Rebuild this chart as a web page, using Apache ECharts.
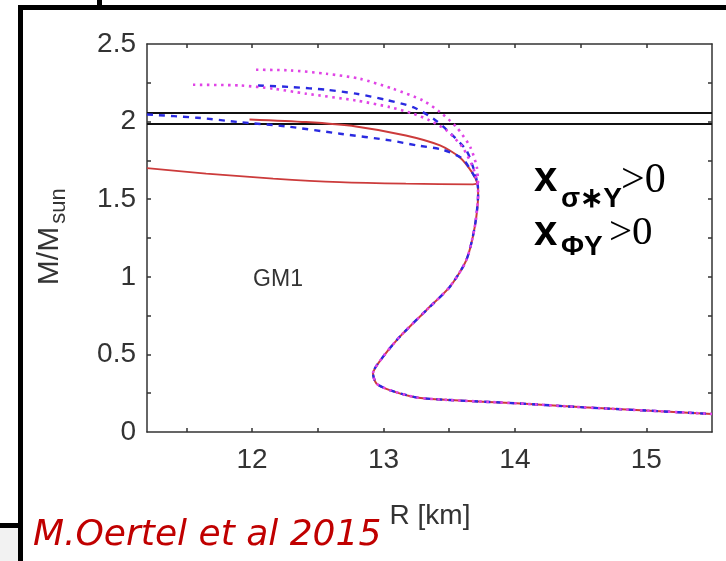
<!DOCTYPE html>
<html>
<head>
<meta charset="utf-8">
<script src="https://cdn.jsdelivr.net/npm/echarts@6/dist/echarts.min.js"></script>
<style>
html,body{margin:0;padding:0;background:#fff;}
#chart{width:726px;height:561px;}
</style>
</head>
<body>
<div id="chart"></div>
<script>
// ---- data (R in km, M in solar masses) ----
var xTicks = [11.5, 12, 12.5, 13, 13.5, 14, 14.5, 15];
var xTickLabels = [12, 13, 14, 15];
var yTicks = [0.25, 0.5, 0.75, 1, 1.25, 1.5, 1.75, 2, 2.25];
var yTickLabels = [0, 0.5, 1, 1.5, 2, 2.5];

// shared low-mass part (all models coincide)
var mainR = [13.715, 13.72, 13.694, 13.63, 13.504, 13.326, 13.123, 12.996, 12.92, 12.946, 13.047, 13.25, 13.504, 14.01, 14.52, 15.03, 15.5];
var mainM = [1.60, 1.535, 1.32, 1.107, 0.935, 0.785, 0.613, 0.484, 0.377, 0.313, 0.27, 0.223, 0.206, 0.185, 0.159, 0.137, 0.116];

// red solid branches
var redUpperR = [11.98, 12.41, 12.79, 13.17, 13.43, 13.58, 13.68];
var redUpperM = [2.014, 1.997, 1.969, 1.911, 1.847, 1.77, 1.665];
var redLowerR = [11.2, 11.65, 12.16, 12.667, 13.17, 13.68, 13.715];
var redLowerM = [1.70, 1.665, 1.633, 1.61, 1.60, 1.596, 1.60];

// blue dashed branches
var blueLowerR = [11.2, 11.58, 11.9, 12.26, 12.67, 13.05, 13.25, 13.45, 13.6, 13.68];
var blueLowerM = [2.046, 2.025, 1.997, 1.969, 1.922, 1.879, 1.847, 1.819, 1.761, 1.665];
var blueUpperR = [12.045, 12.31, 12.565, 12.79, 13.02, 13.225, 13.38, 13.5, 13.63, 13.69, 13.715];
var blueUpperM = [2.233, 2.222, 2.205, 2.18, 2.14, 2.093, 2.019, 1.932, 1.815, 1.686, 1.60];

// magenta dotted branches
var magUpperR = [12.03, 12.29, 12.565, 12.82, 13.07, 13.30, 13.43, 13.555, 13.66, 13.71, 13.72];
var magUpperM = [2.334, 2.33, 2.308, 2.276, 2.212, 2.136, 2.061, 1.965, 1.836, 1.707, 1.60];
var magLowerR = [11.55, 11.906, 12.16, 12.41, 12.79, 13.05, 13.225, 13.35, 13.48, 13.6, 13.68];
var magLowerM = [2.237, 2.233, 2.212, 2.18, 2.136, 2.093, 2.051, 2.008, 1.943, 1.836, 1.707];

// observational constraint lines
var limitM = [2.055, 1.985];
var xRange = [11.2, 15.5];

function zip(r, m) { return r.map(function (v, i) { return [v, m[i]]; }); }
function withMain(r, m) { return zip(r, m).concat(zip(mainR, mainM)); }

var RED = '#cc3b3b', BLUE = '#2a2ae0', MAG = '#e044e6';
var AX = '#333333';
var tickFont = 'Liberation Sans, Arial, sans-serif';

function lineSeries(data, color, type, width, z) {
  return {
    type: 'line', data: data, symbol: 'none', smooth: 0.25, z: z,
    xAxisIndex: 0, yAxisIndex: 0, silent: true,
    lineStyle: { color: color, width: width, type: type, cap: 'butt' }
  };
}

var series = [];
limitM.forEach(function (m) {
  series.push({
    type: 'line', data: [[xRange[0], m], [xRange[1], m]], symbol: 'none', z: 1, silent: true,
    lineStyle: { color: '#111', width: 2 }
  });
});
series.push(lineSeries(zip(redLowerR, redLowerM), RED, 'solid', 1.8, 2));
series.push(lineSeries(withMain(redUpperR, redUpperM), RED, 'solid', 2, 2));
series.push(lineSeries(withMain(blueLowerR, blueLowerM), BLUE, [6, 6], 2.4, 3));
series.push(lineSeries(zip(blueUpperR, blueUpperM), BLUE, [6, 6], 2.4, 3));
series.push(lineSeries(withMain(magLowerR, magLowerM), MAG, [2.5, 4.5], 2.6, 4));
series.push(lineSeries(zip(magUpperR, magUpperM), MAG, [2.5, 4.5], 2.6, 4));

function xAxisDef(pos, labels) {
  return {
    type: 'value', min: xRange[0], max: xRange[1], position: pos,
    axisLine: { show: true, onZero: false, lineStyle: { color: AX, width: 1.5 } },
    axisTick: { show: true, inside: true, length: 4, customValues: xTicks, lineStyle: { color: AX, width: 1.5 } },
    axisLabel: labels ? { show: true, customValues: xTickLabels, fontSize: 28, color: AX, fontFamily: tickFont, margin: 14,
      formatter: function (v) { return String(Math.round(v)); } } : { show: false },
    splitLine: { show: false }
  };
}
function yAxisDef(pos, labels) {
  return {
    type: 'value', min: 0, max: 2.5, position: pos,
    axisLine: { show: true, onZero: false, lineStyle: { color: AX, width: 1.5 } },
    axisTick: { show: true, inside: true, length: 4, customValues: yTicks, lineStyle: { color: AX, width: 1.5 } },
    axisLabel: labels ? { show: true, customValues: yTickLabels, fontSize: 28, color: AX, fontFamily: tickFont, margin: 11,
      formatter: function (v) { return String(+(+v).toFixed(2)); } } : { show: false },
    splitLine: { show: false }
  };
}

function txt(x, y, text, font, size, color, extra) {
  var s = { text: text, x: 0, y: 0, fill: color, fontFamily: font, fontSize: size, align: 'left', verticalAlign: 'middle' };
  if (extra) for (var k in extra) s[k] = extra[k];
  return { type: 'text', x: x, y: y, style: s, z: 50, silent: true };
}
var sans = 'Liberation Sans, Arial, sans-serif';
var serif = 'Liberation Serif, Times New Roman, serif';

var graphics = [
  // slide frame pieces
  { type: 'rect', shape: { x: 18, y: 5, width: 708, height: 5 }, style: { fill: '#000' }, z: 40 },
  { type: 'rect', shape: { x: 18, y: 5, width: 5, height: 556 }, style: { fill: '#000' }, z: 40 },
  { type: 'rect', shape: { x: 97, y: 0, width: 5, height: 6 }, style: { fill: '#000' }, z: 40 },
  { type: 'rect', shape: { x: 0, y: 523, width: 20, height: 5 }, style: { fill: '#000' }, z: 40 },
  { type: 'rect', shape: { x: 0, y: 528, width: 18, height: 33 }, style: { fill: '#f2f2f2' }, z: 39 },
  // axis names
  txt(430, 516, 'R [km]', sans, 28, AX, { align: 'center' }),
  { type: 'text', x: 50, y: 256, rotation: Math.PI / 2, z: 50, silent: true,
    style: { text: 'M/M', fontFamily: sans, fontSize: 30, fill: AX, align: 'center', verticalAlign: 'middle' } },
  { type: 'text', x: 59, y: 206, rotation: Math.PI / 2, z: 50, silent: true,
    style: { text: 'sun', fontFamily: sans, fontSize: 22, fill: AX, align: 'center', verticalAlign: 'middle' } },
  // model label
  txt(278, 280, 'GM1', sans, 23, AX, { align: 'center' }),
  // annotation
  txt(534, 179, 'x', sans, 42, '#000', { fontWeight: 'bold' }),
  txt(561, 199, 'σ∗Y', sans, 28, '#000', { fontWeight: 'bold' }),
  txt(621, 181, '>0', serif, 42, '#000'),
  txt(534, 233, 'x', sans, 42, '#000', { fontWeight: 'bold' }),
  txt(561, 247, 'ΦY', sans, 28, '#000', { fontWeight: 'bold' }),
  txt(609, 233, '>0', serif, 41, '#000'),
  // citation
  txt(33, 536, 'M.Oertel et al 2015', 'DejaVu Sans, sans-serif', 36, '#c00000', { fontStyle: 'italic' })
];

var chart = echarts.init(document.getElementById('chart'), null, { renderer: 'canvas' });
chart.setOption({
  animation: false,
  backgroundColor: '#ffffff',
  grid: { left: 147, right: 14, top: 44, bottom: 129, containLabel: false },
  xAxis: [xAxisDef('bottom', true), xAxisDef('top', false)],
  yAxis: [yAxisDef('left', true), yAxisDef('right', false)],
  series: series,
  graphic: graphics
});
</script>
</body>
</html>
